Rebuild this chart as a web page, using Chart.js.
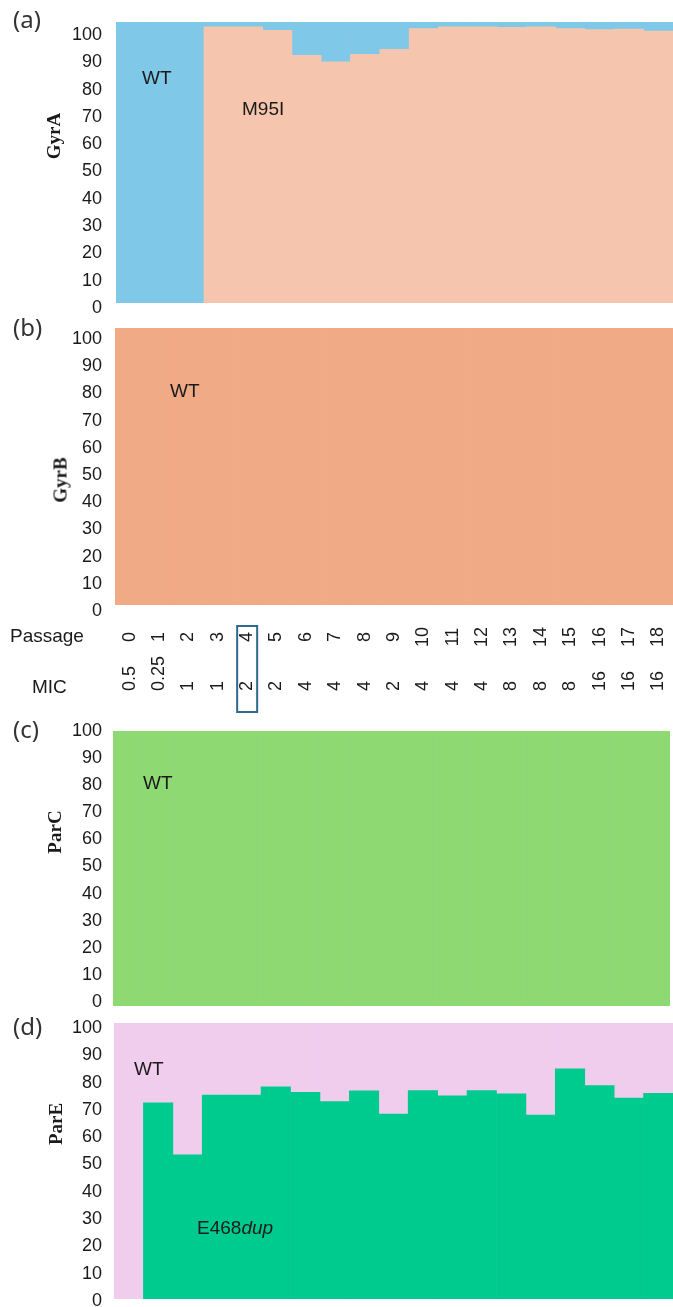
<!DOCTYPE html>
<html>
<head>
<meta charset="utf-8">
<script src="https://cdn.jsdelivr.net/npm/chart.js@4.4.1/dist/chart.umd.min.js"></script>
<style>
  html, body { margin: 0; padding: 0; background: #ffffff; }
  #page { position: relative; width: 673px; height: 1307px; overflow: hidden; }
  canvas { position: absolute; left: 0; }
  .txt { position: absolute; white-space: nowrap; line-height: 1; color: #1a1a1a;
         font-family: "Liberation Sans", Arial, sans-serif; }
  .panel { font-family: "Noto Sans", sans-serif; font-size: 24px; color: #333333;
           transform: translateY(-50%); }
  .ytitle { font-family: "Liberation Serif", "Times New Roman", serif; font-weight: bold;
            font-size: 19px; transform: translate(-50%, -50%) rotate(-90deg); }
  .note { font-size: 19px; transform: translateY(-50%); }
</style>
</head>
<body>
<div id="page">
  <canvas id="cA" width="673" height="320" style="top:0px"></canvas>
  <canvas id="cB" width="673" height="400" style="top:320px"></canvas>
  <canvas id="cC" width="673" height="295" style="top:720px"></canvas>
  <canvas id="cD" width="673" height="292" style="top:1015px"></canvas>

  <div class="txt panel" style="left:13px; top:19px">(a)</div>
  <div class="txt ytitle" style="left:53px; top:136px">GyrA</div>
  <div class="txt note" style="left:142px; top:77px">WT</div>
  <div class="txt note" style="left:242px; top:108px">M95I</div>

  <div class="txt panel" style="left:13px; top:327px">(b)</div>
  <div class="txt ytitle" style="left:60px; top:480px">GyrB</div>
  <div class="txt note" style="left:170px; top:390px">WT</div>

  <div class="txt panel" style="left:13px; top:729px">(c)</div>
  <div class="txt ytitle" style="left:54px; top:832px">ParC</div>
  <div class="txt note" style="left:143px; top:782px">WT</div>

  <div class="txt panel" style="left:13px; top:1026px">(d)</div>
  <div class="txt ytitle" style="left:55px; top:1124px">ParE</div>
  <div class="txt note" style="left:134px; top:1068px">WT</div>
  <div class="txt note" style="left:197px; top:1227px">E468<i>dup</i></div>
</div>

<script>
// Passage numbers and the MIC measured at each passage
const passages = ['0','1','2','3','4','5','6','7','8','9','10','11','12','13','14','15','16','17','18'];
const micValues = ['0.5','0.25','1','1','2','2','4','4','4','2','4','4','4','8','8','8','16','16','16'];
const highlightedPassage = '4';

// Y-axis tick labels (allele frequency, %)
const yTickValues = [0, 10, 20, 30, 40, 50, 60, 70, 80, 90, 100];

// (a) GyrA allele frequencies (%)
const gyrA_M95I = [0, 0, 0, 98.3, 98.3, 97.0, 88.1, 85.8, 88.5, 90.3, 97.7, 98.3, 98.3, 98.1, 98.3, 97.7, 97.3, 97.5, 96.8];
const gyrA_WT   = [100, 100, 100, 1.7, 1.7, 3.0, 11.9, 14.2, 11.5, 9.7, 2.3, 1.7, 1.7, 1.9, 1.7, 2.3, 2.7, 2.5, 3.2];

// (b) GyrB allele frequencies (%)
const gyrB_WT = [100, 100, 100, 100, 100, 100, 100, 100, 100, 100, 100, 100, 100, 100, 100, 100, 100, 100, 100];

// (c) ParC allele frequencies (%)
const parC_WT = [100, 100, 100, 100, 100, 100, 100, 100, 100, 100, 100, 100, 100, 100, 100, 100, 100, 100, 100];

// (d) ParE allele frequencies (%)
const parE_E468dup = [0, 71.1, 52.2, 73.9, 73.9, 76.9, 74.9, 71.5, 75.4, 67.0, 75.5, 73.6, 75.5, 74.3, 66.6, 83.4, 77.3, 72.8, 74.5];
const parE_WT      = [100, 28.9, 47.8, 26.1, 26.1, 23.1, 25.1, 28.5, 24.6, 33.0, 24.5, 26.4, 24.5, 25.7, 33.4, 16.6, 22.7, 27.2, 25.5];

// Page geometry (page pixels): canvas band, plot rectangle, where the 0 and 100 labels sit
const AXIS_W = 60;
const TICK_FONT = { family: '"Liberation Sans", Arial, sans-serif', size: 18 };
const TEXT_COLOR = '#1a1a1a';

const panels = {
  A: { canvasTop: 0,    canvasH: 320, left: 116, right: 673, top: 22,   bottom: 303,  zeroAt: 308,  hundredAt: 35,   gap: 14 },
  B: { canvasTop: 320,  canvasH: 400, left: 115, right: 673, top: 328,  bottom: 605,  zeroAt: 611,  hundredAt: 339,  gap: 13 },
  C: { canvasTop: 720,  canvasH: 295, left: 113, right: 670, top: 731,  bottom: 1006, zeroAt: 1002, hundredAt: 731,  gap: 11 },
  D: { canvasTop: 1015, canvasH: 292, left: 114, right: 673, top: 1023, bottom: 1299, zeroAt: 1301, hundredAt: 1028, gap: 12 }
};

// Passage / MIC rows under panel (b)
const table = { passageY: 637, micTitleY: 688, micY: 691, titleX: 10, micTitleX: 32,
                boxTop: 626, boxBottom: 712, boxHalfW: 10 };

function barSet(label, values, color) {
  return {
    label: label,
    data: values,
    backgroundColor: color,
    borderWidth: 0,
    barPercentage: 1.0,
    categoryPercentage: 1.0,
    // slight overlap between neighbouring blocks, none for empty ones
    inflateAmount: (c) => (c.raw === 0 ? 0 : 0.33),
    yAxisID: 'y'
  };
}

function makePanel(id, geom, datasets, plugins) {
  const pxPerUnit = (geom.zeroAt - geom.hundredAt) / 100;
  const plotH = geom.bottom - geom.top;
  return new Chart(document.getElementById(id), {
    type: 'bar',
    data: { labels: passages, datasets: datasets },
    plugins: plugins || [],
    options: {
      responsive: false,
      animation: false,
      events: [],
      layout: {
        padding: {
          left: geom.left - AXIS_W,
          right: 673 - geom.right,
          top: geom.top - geom.canvasTop,
          bottom: geom.canvasTop + geom.canvasH - geom.bottom
        }
      },
      plugins: { legend: { display: false }, tooltip: { enabled: false } },
      scales: {
        x: { type: 'category', display: false, stacked: true, offset: true },
        y: { type: 'linear', display: false, stacked: true, min: 0, max: 100 },
        yt: {
          type: 'linear',
          position: 'left',
          min: 0,
          max: plotH / pxPerUnit,
          grid: { display: false, drawTicks: false },
          border: { display: false },
          ticks: {
            color: TEXT_COLOR,
            font: TICK_FONT,
            padding: geom.gap,
            labelOffset: geom.zeroAt - geom.bottom,
            includeBounds: false
          },
          afterBuildTicks: (s) => { s.ticks = yTickValues.map(v => ({ value: v })); },
          afterFit: (s) => { s.width = AXIS_W; s.paddingTop = 0; s.paddingBottom = 0; }
        }
      }
    }
  });
}

const passageTable = {
  id: 'passageTable',
  afterDraw(chart) {
    const ctx = chart.ctx;
    const xs = chart.scales.x;
    const off = panels.B.canvasTop;
    ctx.save();
    ctx.fillStyle = TEXT_COLOR;
    ctx.textBaseline = 'middle';
    ctx.textAlign = 'left';
    ctx.font = '19px "Liberation Sans", Arial, sans-serif';
    ctx.fillText('Passage', table.titleX, table.passageY - off);
    ctx.fillText('MIC', table.micTitleX, table.micTitleY - off);

    ctx.font = '18px "Liberation Sans", Arial, sans-serif';
    passages.forEach((p, i) => {
      const px = xs.getPixelForValue(i);
      ctx.save();
      ctx.translate(px, table.passageY - off);
      ctx.rotate(-Math.PI / 2);
      ctx.textAlign = 'center';
      ctx.fillText(p, 0, 0);
      ctx.restore();

      ctx.save();
      ctx.translate(px, table.micY - off);
      ctx.rotate(-Math.PI / 2);
      ctx.textAlign = 'left';
      ctx.fillText(micValues[i], 0, 0);
      ctx.restore();

      if (p === highlightedPassage) {
        ctx.strokeStyle = '#2e6a8c';
        ctx.lineWidth = 2;
        ctx.strokeRect(px - table.boxHalfW, table.boxTop - off, table.boxHalfW * 2, table.boxBottom - table.boxTop);
      }
    });
    ctx.restore();
  }
};

makePanel('cA', panels.A, [
  barSet('M95I', gyrA_M95I, '#f5c6ad'),
  barSet('WT', gyrA_WT, '#7fc8e8')
]);

makePanel('cB', panels.B, [
  barSet('WT', gyrB_WT, '#f0aa85')
], [passageTable]);

makePanel('cC', panels.C, [
  barSet('WT', parC_WT, '#8fd973')
]);

makePanel('cD', panels.D, [
  barSet('E468dup', parE_E468dup, '#00cb8f'),
  barSet('WT', parE_WT, '#f0cced')
]);
</script>
</body>
</html>
